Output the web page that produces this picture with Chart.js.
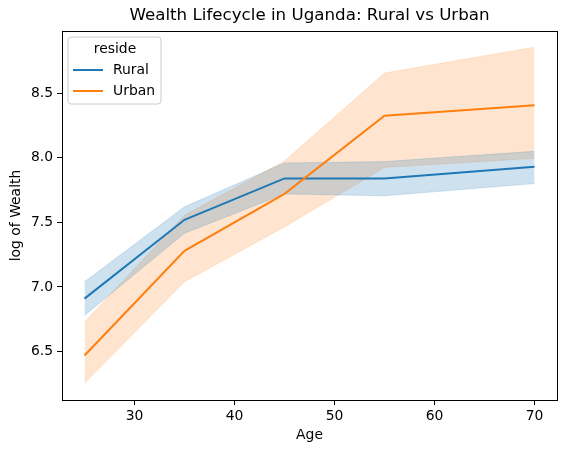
<!DOCTYPE html>
<html><head><meta charset="utf-8">
<script src="https://cdn.jsdelivr.net/npm/chart.js@4"></script>
<style>html,body{margin:0;padding:0;background:#fff;}#wrap{width:567px;height:453px;}</style>
</head><body><div id="wrap"><canvas id="c" width="567" height="453"></canvas></div>
<script>
const ages = [25, 35, 45, 55, 70];
const ruralMean = [6.91, 7.52, 7.84, 7.84, 7.93];
const ruralLow = [6.78, 7.415, 7.72, 7.705, 7.80];
const ruralHigh = [7.04, 7.62, 7.96, 7.97, 8.05];
const urbanMean = [6.47, 7.28, 7.72, 8.325, 8.405];
const urbanLow = [6.255, 7.04, 7.465, 7.925, 7.995];
const urbanHigh = [6.73, 7.555, 7.975, 8.655, 8.855];
const xTicks = [30, 40, 50, 60, 70];
const yTicks = [6.5, 7.0, 7.5, 8.0, 8.5];

const FONT = "'DejaVu Sans', sans-serif";
const blue = '#1f77b4', orange = '#ff7f0e';
const pts = arr => arr.map((v, i) => ({x: ages[i], y: v}));

const overlay = {
  id: 'overlay',
  afterDraw(chart) {
    const ctx = chart.ctx, a = chart.chartArea;
    ctx.save();
    ctx.strokeStyle = '#000'; ctx.lineWidth = 1;
    ctx.strokeRect(Math.round(a.left) + 0.5, Math.round(a.top) + 0.5, Math.round(a.right - a.left), Math.round(a.bottom - a.top));
    ctx.fillStyle = '#000';
    ctx.textAlign = 'center'; ctx.textBaseline = 'middle';
    ctx.font = '16.7px ' + FONT;
    ctx.fillText('Wealth Lifecycle in Uganda: Rural vs Urban', (a.left + a.right) / 2, 16);
    ctx.font = '13.9px ' + FONT;
    ctx.fillText('Age', (a.left + a.right) / 2, 435);
    ctx.save();
    ctx.translate(16, (a.top + a.bottom) / 2);
    ctx.rotate(-Math.PI / 2);
    ctx.fillText('log of Wealth', 0, 0);
    ctx.restore();
    // legend
    const lx = 68, ly = 37, lw = 93, lh = 67, r = 3;
    ctx.beginPath();
    ctx.moveTo(lx + r, ly); ctx.lineTo(lx + lw - r, ly); ctx.quadraticCurveTo(lx + lw, ly, lx + lw, ly + r);
    ctx.lineTo(lx + lw, ly + lh - r); ctx.quadraticCurveTo(lx + lw, ly + lh, lx + lw - r, ly + lh);
    ctx.lineTo(lx + r, ly + lh); ctx.quadraticCurveTo(lx, ly + lh, lx, ly + lh - r);
    ctx.lineTo(lx, ly + r); ctx.quadraticCurveTo(lx, ly, lx + r, ly);
    ctx.closePath();
    ctx.fillStyle = 'rgba(255,255,255,0.8)'; ctx.fill();
    ctx.strokeStyle = '#cccccc'; ctx.lineWidth = 1; ctx.stroke();
    ctx.fillStyle = '#000';
    ctx.textAlign = 'center';
    ctx.fillText('reside', 115, 49.5);
    ctx.textAlign = 'left';
    const entries = [['Rural', blue, 70], ['Urban', orange, 91]];
    for (const [t, c, y] of entries) {
      ctx.strokeStyle = c; ctx.lineWidth = 2;
      ctx.beginPath(); ctx.moveTo(73, y); ctx.lineTo(103, y); ctx.stroke();
      ctx.fillText(t, 113, y + 0.5);
    }
    ctx.restore();
  }
};

const band = (data, color, fill) => ({
  data: pts(data), borderColor: color, backgroundColor: color, borderWidth: 0.8,
  pointRadius: 0, fill: fill, order: 2, tension: 0
});

new Chart(document.getElementById('c'), {
  type: 'line',
  data: {
    datasets: [
      band(ruralHigh, 'rgba(31,119,180,0.22)', false),
      band(ruralLow, 'rgba(31,119,180,0.22)', '-1'),
      band(urbanHigh, 'rgba(255,127,14,0.2)', false),
      band(urbanLow, 'rgba(255,127,14,0.2)', '-1'),
      {data: pts(ruralMean), borderColor: blue, borderWidth: 2, pointRadius: 0, fill: false, order: 1},
      {data: pts(urbanMean), borderColor: orange, borderWidth: 2, pointRadius: 0, fill: false, order: 0}
    ]
  },
  options: {
    responsive: false, animation: false, devicePixelRatio: 1,
    layout: {padding: {top: 31, right: 10, left: 0, bottom: 0}},
    plugins: {legend: {display: false}, tooltip: {enabled: false}, title: {display: false}},
    scales: {
      x: {
        type: 'linear', min: 22.75, max: 72.25,
        afterBuildTicks: s => { s.ticks = xTicks.map(v => ({value: v})); },
        afterFit: s => { s.height = 53; },
        grid: {drawOnChartArea: false, drawTicks: true, tickLength: 5, color: '#000'},
        border: {display: false},
        ticks: {color: '#000', font: {family: FONT, size: 13.9}, padding: 3, maxRotation: 0, callback: v => String(v)}
      },
      y: {
        type: 'linear', min: 6.126, max: 8.98,
        afterBuildTicks: s => { s.ticks = yTicks.map(v => ({value: v})); },
        afterFit: s => { s.width = 62; },
        grid: {drawOnChartArea: false, drawTicks: true, tickLength: 5, color: '#000'},
        border: {display: false},
        ticks: {color: '#000', font: {family: FONT, size: 13.9}, padding: 4, callback: v => v.toFixed(1)}
      }
    }
  },
  plugins: [overlay]
});
</script></body></html>
